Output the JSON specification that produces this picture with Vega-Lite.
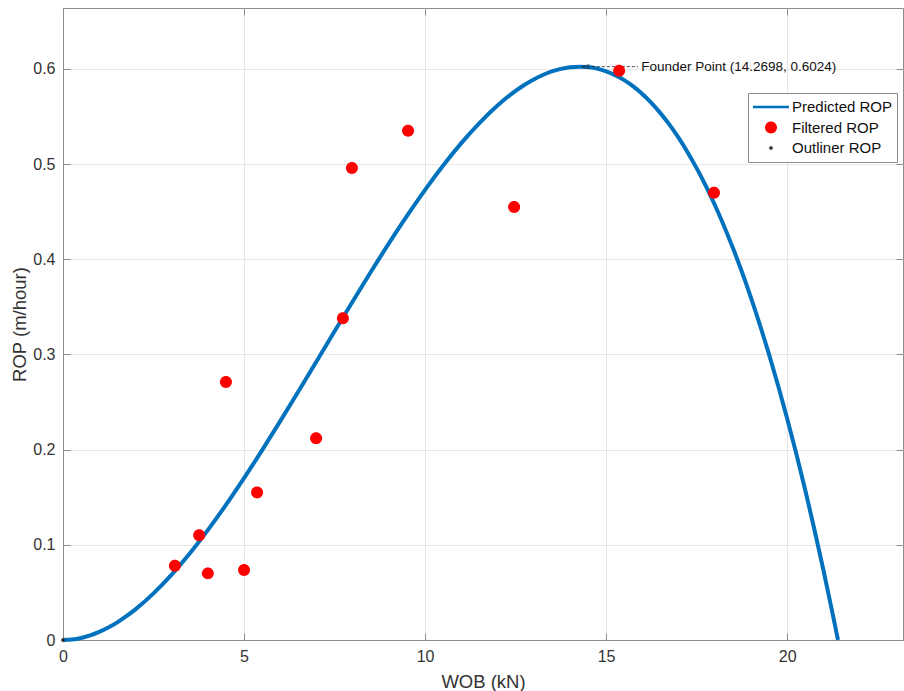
{
  "$schema": "https://vega.github.io/schema/vega-lite/v6.json",
  "width": 840,
  "height": 632,
  "autosize": "none",
  "padding": {"left": 63, "top": 8, "right": 1, "bottom": 51},
  "background": "white",
  "config": {
    "font": "Liberation Sans",
    "view": {"stroke": "#8c8c8c", "strokeWidth": 1},
    "axis": {
      "gridColor": "#e6e6e6",
      "domainColor": "#8c8c8c",
      "tickColor": "#8c8c8c",
      "labelColor": "#333333",
      "titleColor": "#333333",
      "labelFontSize": 16,
      "titleFontSize": 18.5,
      "titleFontWeight": "normal",
      "labelFont": "Liberation Sans",
      "titleFont": "Liberation Sans"
    },
    "legend": {
      "labelFont": "Liberation Sans",
      "labelFontSize": 15,
      "labelColor": "#111111"
    }
  },
  "resolve": {"axis": {"x": "independent", "y": "independent"}},
  "datasets": {
    "curve": [
      {"wob": 0, "rop": 0},
      {"wob": 0.25, "rop": 0.00055},
      {"wob": 0.5, "rop": 0.00217},
      {"wob": 0.75, "rop": 0.00482},
      {"wob": 1, "rop": 0.00846},
      {"wob": 1.25, "rop": 0.01306},
      {"wob": 1.5, "rop": 0.01857},
      {"wob": 1.75, "rop": 0.02496},
      {"wob": 2, "rop": 0.03219},
      {"wob": 2.5, "rop": 0.049},
      {"wob": 3, "rop": 0.06869},
      {"wob": 3.5, "rop": 0.09095},
      {"wob": 4, "rop": 0.11548},
      {"wob": 4.5, "rop": 0.14195},
      {"wob": 5, "rop": 0.17006},
      {"wob": 5.5, "rop": 0.19951},
      {"wob": 6, "rop": 0.22996},
      {"wob": 6.5, "rop": 0.26112},
      {"wob": 7, "rop": 0.29268},
      {"wob": 7.5, "rop": 0.32433},
      {"wob": 8, "rop": 0.35573},
      {"wob": 8.5, "rop": 0.38661},
      {"wob": 9, "rop": 0.41664},
      {"wob": 9.5, "rop": 0.44549},
      {"wob": 10, "rop": 0.4729},
      {"wob": 10.5, "rop": 0.49852},
      {"wob": 11, "rop": 0.52203},
      {"wob": 11.5, "rop": 0.54313},
      {"wob": 12, "rop": 0.56154},
      {"wob": 12.5, "rop": 0.57692},
      {"wob": 12.75, "rop": 0.58337},
      {"wob": 13, "rop": 0.58895},
      {"wob": 13.25, "rop": 0.59362},
      {"wob": 13.5, "rop": 0.59738},
      {"wob": 13.75, "rop": 0.60006},
      {"wob": 14, "rop": 0.60176},
      {"wob": 14.27, "rop": 0.60237},
      {"wob": 14.5, "rop": 0.60199},
      {"wob": 14.75, "rop": 0.60029},
      {"wob": 15, "rop": 0.59749},
      {"wob": 15.25, "rop": 0.59347},
      {"wob": 15.5, "rop": 0.58823},
      {"wob": 15.75, "rop": 0.58158},
      {"wob": 16, "rop": 0.57365},
      {"wob": 16.25, "rop": 0.56433},
      {"wob": 16.5, "rop": 0.55358},
      {"wob": 16.75, "rop": 0.54142},
      {"wob": 17, "rop": 0.52773},
      {"wob": 17.25, "rop": 0.51253},
      {"wob": 17.5, "rop": 0.49572},
      {"wob": 17.75, "rop": 0.47735},
      {"wob": 18, "rop": 0.45726},
      {"wob": 18.25, "rop": 0.43556},
      {"wob": 18.5, "rop": 0.41204},
      {"wob": 18.75, "rop": 0.38685},
      {"wob": 19, "rop": 0.35981},
      {"wob": 19.25, "rop": 0.33092},
      {"wob": 19.5, "rop": 0.30015},
      {"wob": 19.75, "rop": 0.26745},
      {"wob": 20, "rop": 0.2328},
      {"wob": 20.25, "rop": 0.19614},
      {"wob": 20.5, "rop": 0.1575},
      {"wob": 20.75, "rop": 0.11667},
      {"wob": 21, "rop": 0.07375},
      {"wob": 21.25, "rop": 0.02873},
      {"wob": 21.405, "rop": 0}
    ],
    "points": [
      {"wob": 0, "rop": 0, "series": "Outliner ROP"},
      {"wob": 3.09, "rop": 0.078, "series": "Filtered ROP"},
      {"wob": 3.76, "rop": 0.110, "series": "Filtered ROP"},
      {"wob": 4.0, "rop": 0.070, "series": "Filtered ROP"},
      {"wob": 4.5, "rop": 0.271, "series": "Filtered ROP"},
      {"wob": 5.0, "rop": 0.0735, "series": "Filtered ROP"},
      {"wob": 5.36, "rop": 0.155, "series": "Filtered ROP"},
      {"wob": 6.99, "rop": 0.212, "series": "Filtered ROP"},
      {"wob": 7.73, "rop": 0.338, "series": "Filtered ROP"},
      {"wob": 7.98, "rop": 0.496, "series": "Filtered ROP"},
      {"wob": 9.53, "rop": 0.535, "series": "Filtered ROP"},
      {"wob": 12.46, "rop": 0.455, "series": "Filtered ROP"},
      {"wob": 15.36, "rop": 0.598, "series": "Filtered ROP"},
      {"wob": 17.98, "rop": 0.470, "series": "Filtered ROP"}
    ],
    "note": [
      {"wob": 14.33, "wob2": 15.88, "rop": 0.6024, "textx": 15.97, "label": "Founder Point (14.2698, 0.6024)"}
    ]
  },
  "layer": [
    {
      "data": {"name": "curve"},
      "mark": {"type": "line", "color": "#0072BD", "strokeWidth": 4, "interpolate": "monotone"},
      "encoding": {
        "x": {
          "field": "wob", "type": "quantitative",
          "scale": {"domain": [0, 23.2], "nice": false, "zero": false},
          "axis": {"orient": "bottom", "values": [0, 5, 10, 15, 20], "title": "WOB (kN)", "tickSize": -7, "labelPadding": 15, "labelFlush": false, "titlePadding": 8, "grid": true}
        },
        "y": {
          "field": "rop", "type": "quantitative",
          "scale": {"domain": [0, 0.664], "nice": false, "zero": false},
          "axis": {"orient": "left", "values": [0, 0.1, 0.2, 0.3, 0.4, 0.5, 0.6], "format": ".1~f", "title": "ROP (m/hour)", "tickSize": -7, "labelPadding": 15, "labelFlush": false, "titlePadding": 3, "grid": true}
        }
      }
    },
    {
      "data": {"name": "note"},
      "mark": {"type": "rule", "color": "#222222", "strokeWidth": 0.8, "strokeDash": [3, 2]},
      "encoding": {
        "x": {"field": "wob", "type": "quantitative", "axis": null},
        "x2": {"field": "wob2"},
        "y": {"field": "rop", "type": "quantitative", "axis": null}
      }
    },
    {
      "data": {"name": "note"},
      "mark": {"type": "point", "shape": "M1,-0.6L-1,0L1,0.6", "filled": false, "stroke": "#222222", "strokeWidth": 0.8, "size": 60, "xOffset": 4},
      "encoding": {
        "x": {"field": "wob", "type": "quantitative", "axis": null},
        "y": {"field": "rop", "type": "quantitative", "axis": null}
      }
    },
    {
      "data": {"name": "note"},
      "mark": {"type": "text", "align": "left", "baseline": "middle", "fontSize": 13.5, "color": "#111111", "font": "Liberation Sans"},
      "encoding": {
        "x": {"field": "textx", "type": "quantitative", "axis": {"orient": "top", "values": [0, 5, 10, 15, 20], "labels": false, "title": null, "grid": false, "domain": false, "tickSize": -7}},
        "y": {"field": "rop", "type": "quantitative", "axis": {"orient": "right", "values": [0, 0.1, 0.2, 0.3, 0.4, 0.5, 0.6], "labels": false, "title": null, "grid": false, "domain": false, "tickSize": -7}},
        "text": {"field": "label"}
      }
    },
    {
      "data": {"name": "points"},
      "mark": {"type": "point", "filled": true, "opacity": 1, "size": 1296},
      "encoding": {
        "x": {"field": "wob", "type": "quantitative", "axis": null},
        "y": {"field": "rop", "type": "quantitative", "axis": null},
        "color": {
          "field": "series", "type": "nominal",
          "scale": {"domain": ["Predicted ROP", "Filtered ROP", "Outliner ROP"], "range": ["#0072BD", "#FF0000", "#1a1a1a"]},
          "legend": {
            "title": null,
            "orient": "none",
            "legendX": 685,
            "legendY": 85,
            "fillColor": "white",
            "strokeColor": "#8c8c8c",
            "padding": 4,
            "symbolSize": 1296,
            "clipHeight": 20,
            "labelOffset": 2,
            "rowPadding": 0.5
          }
        },
        "shape": {
          "field": "series", "type": "nominal",
          "scale": {"domain": ["Predicted ROP", "Filtered ROP", "Outliner ROP"], "range": ["M-1,-0.07H1V0.07H-1Z", "M-0.333,0A0.333,0.333,0,1,1,0.333,0A0.333,0.333,0,1,1,-0.333,0Z", "M-0.12,-0.025H0.12V0.025H-0.12Z M-0.025,-0.12H0.025V0.12H-0.025Z M-0.09,-0.07L-0.07,-0.09L0.09,0.07L0.07,0.09Z M-0.09,0.07L-0.07,0.09L0.09,-0.07L0.07,-0.09Z"]},
          "legend": {
            "title": null,
            "orient": "none",
            "legendX": 685,
            "legendY": 85,
            "fillColor": "white",
            "strokeColor": "#8c8c8c",
            "padding": 4,
            "symbolSize": 1296,
            "clipHeight": 20,
            "labelOffset": 2,
            "rowPadding": 0.5
          }
        }
      }
    }
  ]
}
